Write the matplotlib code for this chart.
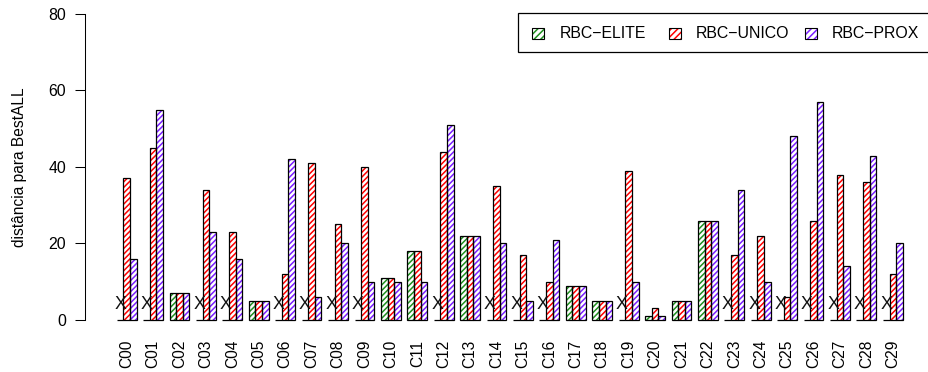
import matplotlib
matplotlib.use("Agg")
import matplotlib.pyplot as plt
from matplotlib.patches import Rectangle
import numpy as np

plt.rcParams['font.family'] = ['Liberation Sans', 'DejaVu Sans']
plt.rcParams['hatch.linewidth'] = 1.1

# Problem instances and distance to BestALL for each variant
categories = [f"C{i:02d}" for i in range(30)]
rbc_elite = [0, 0, 7, 0, 0, 5, 0, 0, 0, 0, 11, 18, 0, 22, 0, 0, 0, 9, 5, 0,
             1, 5, 26, 0, 0, 0, 0, 0, 0, 0]
rbc_unico = [37, 45, 7, 34, 23, 5, 12, 41, 25, 40, 11, 18, 44, 22, 35, 17, 10, 9, 5, 39,
             3, 5, 26, 17, 22, 6, 26, 38, 36, 12]
rbc_prox = [16, 55, 7, 23, 16, 5, 42, 6, 20, 10, 10, 10, 51, 22, 20, 5, 21, 9, 5, 10,
            1, 5, 26, 34, 10, 48, 57, 14, 43, 20]
series_names = ["RBC\u2212ELITE", "RBC\u2212UNICO", "RBC\u2212PROX"]
series_colors = ["#1F901F", "#FF0000", "#7A1FFF"]
y_ticks = [0, 20, 40, 60, 80]

W, H = 929, 372
fig = plt.figure(figsize=(W / 100, H / 100), dpi=100)

# axes box in pixels (left, top, right, bottom)
L, T, R, B = 85.3, 1.76, 929.0, 332.2
ax = fig.add_axes([L / W, 1 - B / H, (R - L) / W, (B - T) / H])

n = len(categories)
group_left = 1 + 4 * np.arange(n)
series = [rbc_elite, rbc_unico, rbc_prox]

for j, (vals, col) in enumerate(zip(series, series_colors)):
    x = group_left + j
    ax.bar(x, vals, width=1.0, align='edge', color='white', edgecolor=col,
           hatch='//////', linewidth=0, zorder=2)
    ax.bar(x, vals, width=1.0, align='edge', fill=False, edgecolor='black',
           linewidth=0.9, zorder=3)

# mark instances where RBC-ELITE found BestALL
for gx, v in zip(group_left, rbc_elite):
    if v == 0:
        ax.text(gx + 0.5, 4.0, "X", ha='center', va='center', fontsize=12.8,
                color='#111111', zorder=4)

ax.set_xlim(-3.76, -3.76 + (R - L) / 6.605)
ax.set_ylim(-3.2, 83.2)

ax.set_xticks(group_left + 1.5)
ax.set_xticklabels(categories, rotation=90, fontsize=11.2)
ax.tick_params(axis='x', length=0, pad=5.6)

ax.set_yticks(y_ticks)
ax.set_yticklabels([str(t) for t in y_ticks], fontsize=11.4)
ax.tick_params(axis='y', length=7.2, width=0.75, pad=6.6)

for s in ['top', 'right', 'bottom']:
    ax.spines[s].set_visible(False)
ax.spines['left'].set_bounds(0, 80)
ax.spines['left'].set_linewidth(0.75)

ax.set_ylabel("dist\u00e2ncia para BestALL", fontsize=11.2)
ax.yaxis.label.set_verticalalignment('center')
ax.yaxis.set_label_coords((20 - L) / (R - L), 0.5)


def fx(px):
    return px / W


def fy(py):
    return 1 - py / H


# legend box
fig.add_artist(Rectangle((fx(518.3), fy(51.7)), fx(940 - 518.3), 38.4 / H,
                         transform=fig.transFigure, facecolor='white',
                         edgecolor='black', linewidth=0.9, clip_on=False))
key_x = [532.5, 669.5, 805.3]
text_x = [560.0, 695.7, 831.7]
for kx, tx, name, col in zip(key_x, text_x, series_names, series_colors):
    fig.add_artist(Rectangle((fx(kx), fy(38.5)), 11.5 / W, 10.8 / H,
                             transform=fig.transFigure, facecolor='white',
                             edgecolor=col, hatch='/////', linewidth=0))
    fig.add_artist(Rectangle((fx(kx), fy(38.5)), 11.5 / W, 10.8 / H,
                             transform=fig.transFigure, fill=False,
                             edgecolor='black', linewidth=0.8))
    fig.text(fx(tx), fy(33.2), name, ha='left', va='center', fontsize=11.4)

fig.savefig("out.png", dpi=100)
